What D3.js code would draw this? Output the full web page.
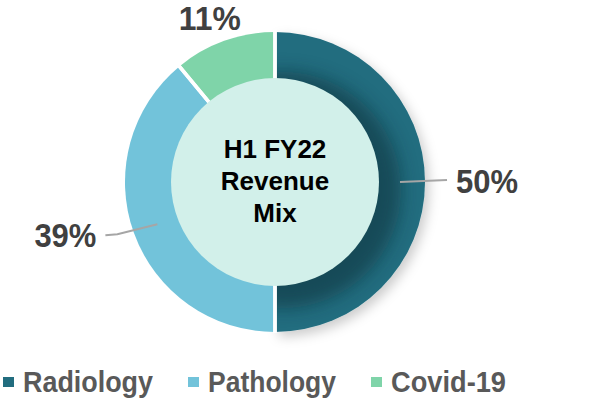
<!DOCTYPE html>
<html>
<head>
<meta charset="utf-8">
<script src="https://cdn.jsdelivr.net/npm/d3@7"></script>
<style>
  body { margin: 0; background: #fff; }
  svg { display: block; font-family: "Liberation Sans", Arial, sans-serif; }
</style>
</head>
<body>
<svg width="608" height="401"></svg>
<script>
const categories = ["Radiology", "Pathology", "Covid-19"];
const values = [50, 39, 11];
const colors = ["#226d7f", "#72c3da", "#7fd4a9"];
const centerLines = ["H1 FY22", "Revenue", "Mix"];

const svg = d3.select("svg");
const cx = 275, cy = 182;
const outerR = 150, innerR = 104;

const defs = svg.append("defs");

const shadow = defs.append("filter").attr("id", "shadow")
    .attr("x", "-20%").attr("y", "-20%").attr("width", "140%").attr("height", "140%");
shadow.append("feDropShadow")
    .attr("dx", 4).attr("dy", 5).attr("stdDeviation", 6)
    .attr("flood-color", "#000").attr("flood-opacity", 0.2);

const blur = defs.append("filter").attr("id", "blur")
    .attr("x", "-30%").attr("y", "-30%").attr("width", "160%").attr("height", "160%");
blur.append("feGaussianBlur").attr("stdDeviation", 9);

const pie = d3.pie().sort(null).value(d => d);
const arcs = pie(values);
const arc = d3.arc().innerRadius(0).outerRadius(outerR);

defs.append("clipPath").attr("id", "radClip")
    .append("path")
    .attr("d", arc(arcs[0]));

const g = svg.append("g").attr("transform", `translate(${cx},${cy})`);

g.selectAll("path.slice")
    .data(arcs)
    .enter().append("path")
    .attr("class", "slice")
    .attr("d", arc)
    .attr("fill", (d, i) => colors[i])
    .attr("filter", (d, i) => i === 0 ? "url(#shadow)" : null);

// inner shadow cast onto the radiology slice
g.append("g").attr("clip-path", "url(#radClip)")
    .append("circle")
    .attr("cx", 8).attr("cy", 8)
    .attr("r", innerR + 14)
    .attr("fill", "#0c2e38")
    .attr("opacity", 0.55)
    .attr("filter", "url(#blur)");

function polar(a, r) {
    return [Math.sin(a) * r, -Math.cos(a) * r];
}

// white separators at each slice boundary
g.selectAll("line.sep")
    .data(arcs.flatMap(d => [d.startAngle, d.endAngle]))
    .enter().append("line")
    .attr("class", "sep")
    .attr("x1", 0).attr("y1", 0)
    .attr("x2", a => polar(a, outerR + 1)[0])
    .attr("y2", a => polar(a, outerR + 1)[1])
    .attr("stroke", "#fff").attr("stroke-width", 3.5);

g.append("circle")
    .attr("r", innerR)
    .attr("fill", "#d2f0ea");

centerLines.forEach((t, i) => {
    g.append("text")
        .attr("x", 0)
        .attr("y", -24 + i * 32)
        .attr("text-anchor", "middle")
        .attr("font-size", 26)
        .attr("font-weight", "bold")
        .attr("fill", "#000")
        .text(t);
});

const midA = arcs.map(d => (d.startAngle + d.endAngle) / 2);

function pctLabel(x, y, v, anchor) {
    g.append("text")
        .attr("x", x).attr("y", y)
        .attr("text-anchor", anchor)
        .attr("font-size", 33).attr("font-weight", "bold").attr("fill", "#404040")
        .attr("textLength", 62).attr("lengthAdjust", "spacingAndGlyphs")
        .text(v + "%");
}

// Radiology label with leader
{
    const p0 = polar(midA[0], 125);
    g.append("path")
        .attr("d", d3.line()([p0, [p0[0] + 47, p0[1] - 2]]))
        .attr("stroke", "#a6a6a6").attr("stroke-width", 2).attr("fill", "none");
    pctLabel(p0[0] + 56, p0[1] + 11, values[0], "start");
}
// Pathology label with leader
{
    const p0 = polar(midA[1], 125);
    const p1 = [p0[0] - 40, p0[1] + 10];
    const p2 = [p1[0] - 12, p1[1] + 1];
    g.append("path")
        .attr("d", d3.line()([p0, p1, p2]))
        .attr("stroke", "#a6a6a6").attr("stroke-width", 2).attr("fill", "none");
    pctLabel(p2[0] - 71, p2[1] + 12, values[1], "start");
}
// Covid label
{
    const p0 = polar(midA[2], 160);
    pctLabel(p0[0] - 42, p0[1] - 1, values[2], "start");
}

// Legend
const legendX = [3, 188, 371];
const legendW = [130, 128, 115];
const legend = svg.append("g");
categories.forEach((c, i) => {
    legend.append("rect")
        .attr("x", legendX[i]).attr("y", 377)
        .attr("width", 11).attr("height", 10)
        .attr("fill", colors[i]);
    legend.append("text")
        .attr("x", legendX[i] + 20).attr("y", 392)
        .attr("font-size", 29).attr("font-weight", "bold").attr("fill", "#595959")
        .attr("textLength", legendW[i]).attr("lengthAdjust", "spacingAndGlyphs")
        .text(c);
});
</script>
</body>
</html>
